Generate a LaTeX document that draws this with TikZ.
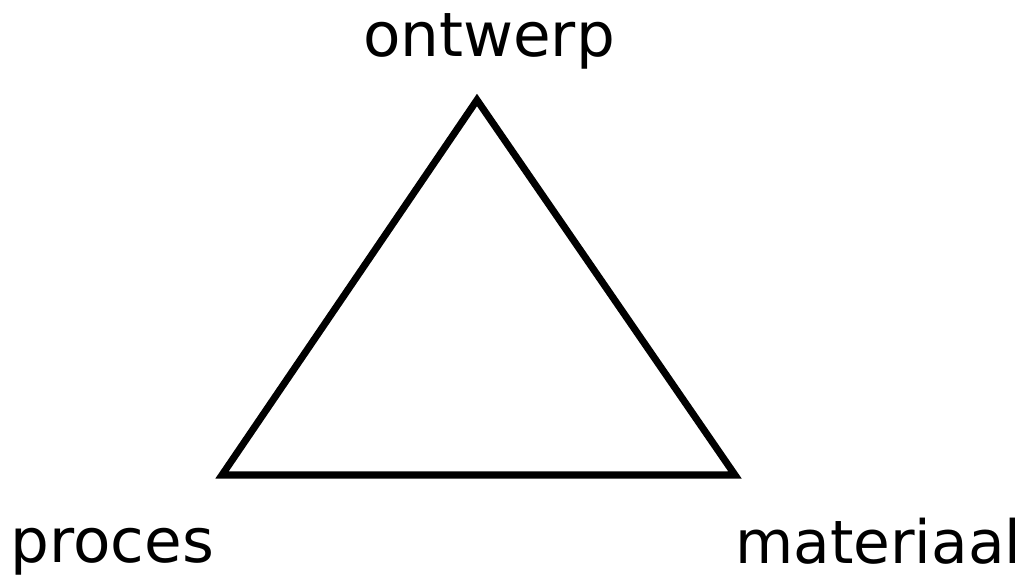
\documentclass[tikz,border=0pt]{standalone}
\usepackage{fontspec}
\setmainfont{DejaVu Sans}
\usetikzlibrary{positioning}

\begin{document}
\begin{tikzpicture}[x=0.01cm, y=-0.01cm,
  label/.style={inner sep=0pt, font=\fontsize{17.4}{20}\selectfont}]
\useasboundingbox (0,0) rectangle (1032,579);
% corners of the triangle
\coordinate (top) at (477,100);
\coordinate (left) at (222,475);
\coordinate (right) at (735,475);
\draw[line width=2pt, line join=miter] (top) -- (right) -- (left) -- cycle;
% labels
\node[label, anchor=base] (ontwerp) at (489,57) {ontwerp};
\node[label, anchor=base west] (proces) at (10,563) {proces};
\node[label, anchor=base east, font=\fontsize{17}{20}\selectfont] (materiaal) at (1022,564) {materiaal};
\end{tikzpicture}
\end{document}
